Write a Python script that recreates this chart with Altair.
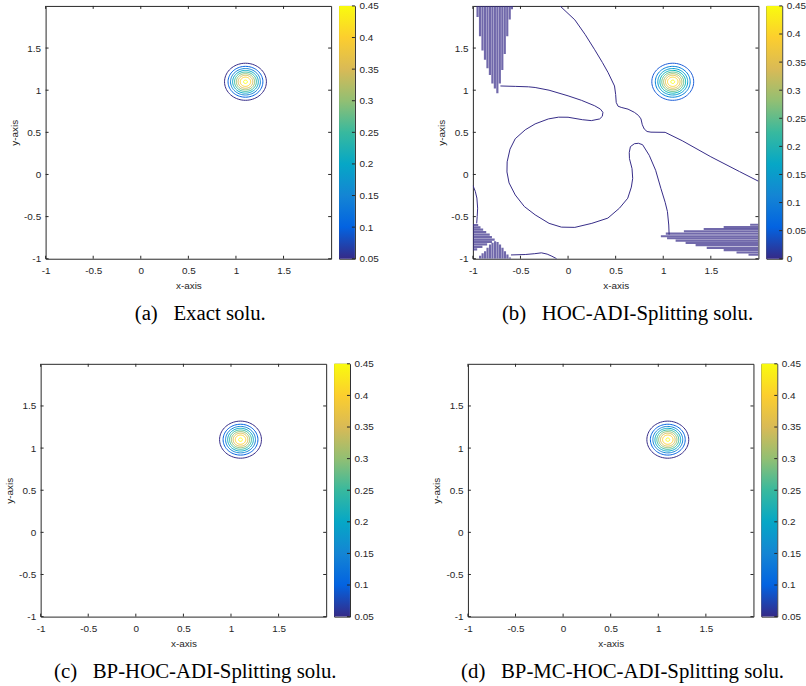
import math
import altair as alt
import pandas as pd

# ------------------------------------------------------------------ data
AXIS_TICKS = [-1, -0.5, 0, 0.5, 1, 1.5]
AXIS_DOMAIN = [-1, 2]

PEAK_X = 1.1
PEAK_Y = 1.1
LEVELS = [0.05, 0.10, 0.15, 0.20, 0.25, 0.30, 0.35, 0.40, 0.45]
RING_RADII = [0.220, 0.183, 0.157, 0.135, 0.115, 0.096, 0.077, 0.055, 0.020]

CBAR_TICKS = [0.05, 0.1, 0.15, 0.2, 0.25, 0.3, 0.35, 0.4, 0.45]
CBAR_TICKS_B = [0, 0.05, 0.1, 0.15, 0.2, 0.25, 0.3, 0.35, 0.4, 0.45]

PARULA = ["#352a87", "#0363e1", "#1485d4", "#06a7c6", "#38b99e",
          "#92bf73", "#d9ba56", "#fcce2e", "#f9fb0e"]

CAPTIONS = [
    "(a)\u00a0\u00a0\u00a0Exact solu.",
    "(b)\u00a0\u00a0\u00a0HOC-ADI-Splitting solu.",
    "(c)\u00a0\u00a0\u00a0BP-HOC-ADI-Splitting solu.",
    "(d)\u00a0\u00a0\u00a0BP-MC-HOC-ADI-Splitting solu.",
]

# HOC-ADI-Splitting: spurious zero-level contours
B_C1_X = [-0.085, 0.071, 0.18, 0.28, 0.36, 0.421, 0.488, 0.50, 0.506, 0.525, 0.558, 0.63, 0.697,
          0.74, 0.766, 0.78, 0.80, 0.83, 0.871, 1.02, 1.2, 1.5, 1.8, 2.0]
B_C1_Y = [2.0, 1.835, 1.66, 1.48, 1.33, 1.208, 1.05, 0.95, 0.855, 0.81, 0.796, 0.775, 0.737,
          0.70, 0.659, 0.59, 0.54, 0.51, 0.502, 0.50, 0.40, 0.21, 0.035, -0.08]

B_C2_X = [-0.711, -0.55, -0.416, -0.346, -0.2, 0.0, 0.14, 0.28, 0.34, 0.366, 0.36, 0.332, 0.245,
          0.15, 0.0, -0.1, -0.207, -0.346, -0.45, -0.555, -0.61, -0.64, -0.642, -0.62, -0.555,
          -0.46, -0.346, -0.2, -0.07, 0.071, 0.25, 0.418, 0.54, 0.627, 0.665, 0.679, 0.672, 0.645,
          0.643, 0.655, 0.697, 0.74, 0.783, 0.853, 0.92, 0.975, 1.02, 1.044, 1.058, 1.062]
B_C2_Y = [1.05, 1.045, 1.04, 1.032, 1.0, 0.933, 0.88, 0.815, 0.775, 0.737, 0.69, 0.659, 0.639,
          0.65, 0.679, 0.68, 0.659, 0.60, 0.53, 0.424, 0.30, 0.15, 0.03, -0.10, -0.243,
          -0.38, -0.479, -0.58, -0.625, -0.628, -0.58, -0.518, -0.40, -0.282, -0.15, -0.047, 0.07,
          0.188, 0.26, 0.33, 0.365, 0.37, 0.353, 0.227, 0.05, -0.165, -0.33, -0.44, -0.60, -0.714]

B_C3_X = [-1.0, -0.975, -0.958, -0.95, -0.955, -0.96]
B_C3_Y = [-0.13, -0.20, -0.28, -0.40, -0.50, -0.58]

B_C4_X = [-0.60, -0.45, -0.35, -0.28, -0.22, -0.17, -0.12]
B_C4_Y = [-0.955, -0.95, -0.94, -0.93, -0.945, -0.97, -1.0]

# hatched (oscillating) regions: top-left vertical stripes from the top edge down to Y_END
B_TL_X = [-0.951, -0.925, -0.899, -0.873, -0.847, -0.821, -0.795, -0.769, -0.743, -0.717,
          -0.691, -0.665, -0.639, -0.613, -0.590]
B_TL_YEND = [1.87, 1.64, 1.47, 1.36, 1.26, 1.18, 1.08, 1.02, 0.965, 1.08, 1.24, 1.43, 1.64, 1.84, 1.96]

# bottom-right horizontal stripes from X_START to the right edge
B_BR_Y = [-0.597, -0.624, -0.647, -0.674, -0.702, -0.733, -0.757, -0.785, -0.812, -0.839,
          -0.871, -0.898, -0.926, -0.953]
B_BR_XSTART = [1.913, 1.635, 1.425, 1.217, 1.027, 0.975, 1.04, 1.13, 1.235, 1.34, 1.457,
               1.635, 1.77, 1.896]

# bottom-left: horizontal stripes from the left edge to X_END
B_BLH_Y = [-0.60, -0.627, -0.655, -0.684, -0.714, -0.743, -0.773, -0.80, -0.83, -0.86, -0.89]
B_BLH_XEND = [-0.944, -0.92, -0.892, -0.86, -0.823, -0.80, -0.771, -0.80, -0.85, -0.90, -0.955]

# bottom-left: vertical stripes from the bottom edge up to Y_TOP
B_BLV_X = [-0.924, -0.898, -0.872, -0.846, -0.82, -0.794, -0.767, -0.741, -0.715, -0.689,
           -0.663, -0.637, -0.611]
B_BLV_YTOP = [-0.965, -0.935, -0.91, -0.87, -0.832, -0.81, -0.792, -0.80, -0.83, -0.87,
              -0.91, -0.95, -0.985]

# ------------------------------------------------------------------ tables
ring_rows = []
for lvl, r in zip(LEVELS, RING_RADII):
    for k in range(73):
        t = 2 * math.pi * k / 72
        ring_rows.append({"level": lvl, "k": k,
                          "x": PEAK_X + r * math.cos(t), "y": PEAK_Y + r * math.sin(t)})
rings_df = pd.DataFrame(ring_rows)

curve_rows = []
for cid, (xs, ys) in enumerate([(B_C1_X, B_C1_Y), (B_C2_X, B_C2_Y), (B_C3_X, B_C3_Y), (B_C4_X, B_C4_Y)]):
    for k, (x, y) in enumerate(zip(xs, ys)):
        curve_rows.append({"cid": cid, "k": k, "x": x, "y": y, "level": 0})
curves_df = pd.DataFrame(curve_rows)

X_LO, X_HI = AXIS_DOMAIN
seg_rows = []
for x, ye in zip(B_TL_X, B_TL_YEND):
    seg_rows.append({"x": x, "x2": x, "y": X_HI, "y2": ye, "level": 0})
for y, xs in zip(B_BR_Y, B_BR_XSTART):
    seg_rows.append({"x": xs, "x2": X_HI, "y": y, "y2": y, "level": 0})
for y, xe in zip(B_BLH_Y, B_BLH_XEND):
    seg_rows.append({"x": X_LO, "x2": xe, "y": y, "y2": y, "level": 0})
for x, yt in zip(B_BLV_X, B_BLV_YTOP):
    seg_rows.append({"x": x, "x2": x, "y": X_LO, "y2": yt, "level": 0})
segs_df = pd.DataFrame(seg_rows)

ticks_df = pd.DataFrame({"v": AXIS_TICKS})

# ------------------------------------------------------------------ style
W, H = 288, 255
CB_W = 16
TICK = 3
INK = "#262626"
LAB = "datum.value + ''"

XY_SCALE = alt.Scale(domain=AXIS_DOMAIN, nice=False, zero=False)
X_AXIS = alt.Axis(values=AXIS_TICKS, title="x-axis", labelExpr=LAB, labelFlush=False,
                  labelPadding=7, titlePadding=5)
Y_AXIS = alt.Axis(values=AXIS_TICKS, title="y-axis", labelExpr=LAB, labelFlush=False,
                  labelPadding=5, titlePadding=4)


def color_enc(lo):
    n = len(PARULA)
    dom = [lo + (LEVELS[-1] - lo) * i / (n - 1) for i in range(n)]
    return alt.Color("level:Q", scale=alt.Scale(domain=dom, range=PARULA), legend=None)


def main_plot(lo, caption, extra=False):
    X = alt.X("x:Q", scale=XY_SCALE, axis=X_AXIS)
    Y = alt.Y("y:Q", scale=XY_SCALE, axis=Y_AXIS)
    C = color_enc(lo)
    layers = []
    if extra:
        layers.append(alt.Chart(segs_df).mark_rule(strokeWidth=2.2, opacity=0.7, clip=True).encode(
            x=X, y=Y, x2="x2:Q", y2="y2:Q", color=C))
        layers.append(alt.Chart(curves_df).mark_line(strokeWidth=1, clip=True).encode(
            x=X, y=Y, detail="cid:N", order="k:Q", color=C))
    layers.append(alt.Chart(rings_df).mark_line(strokeWidth=1, clip=True).encode(
        x=X, y=Y, detail="level:N", order="k:Q", color=C))
    TX = alt.X("v:Q", scale=XY_SCALE, axis=X_AXIS)
    TY = alt.Y("v:Q", scale=XY_SCALE, axis=Y_AXIS)
    layers += [
        alt.Chart(ticks_df).mark_rule(color=INK).encode(x=TX, y=alt.value(H), y2=alt.value(H - TICK)),
        alt.Chart(ticks_df).mark_rule(color=INK).encode(x=TX, y=alt.value(0), y2=alt.value(TICK)),
        alt.Chart(ticks_df).mark_rule(color=INK).encode(y=TY, x=alt.value(0), x2=alt.value(TICK)),
        alt.Chart(ticks_df).mark_rule(color=INK).encode(y=TY, x=alt.value(W), x2=alt.value(W - TICK)),
    ]
    return alt.layer(*layers).properties(
        width=W, height=H,
        title=alt.TitleParams(text=caption, orient="bottom", anchor="middle", frame="group",
                              font="Liberation Serif", fontSize=21, fontWeight="normal",
                              color="black", offset=13, dx=12))


def colorbar(lo, ticks):
    df = pd.DataFrame({"lo": [lo], "hi": [LEVELS[-1]]})
    n = len(PARULA)
    grad = alt.Gradient(gradient="linear",
                        stops=[alt.GradientStop(color=c, offset=i / (n - 1)) for i, c in enumerate(PARULA)],
                        x1=0, x2=0, y1=1, y2=0)
    ys = alt.Scale(domain=[lo, LEVELS[-1]], nice=False, zero=False)
    ax = alt.Axis(orient="right", values=ticks, title=None, labelExpr=LAB, labelPadding=4,
                  labelFlush=False, labelBaseline="middle")
    bar = alt.Chart(df).mark_rect(fill=grad).encode(
        y=alt.Y("lo:Q", scale=ys, axis=ax), y2="hi:Q", x=alt.value(0), x2=alt.value(CB_W))
    tk = alt.Chart(pd.DataFrame({"v": ticks})).mark_rule(color=INK).encode(
        y=alt.Y("v:Q", scale=ys, axis=ax), x=alt.value(CB_W), x2=alt.value(CB_W - TICK))
    return alt.layer(bar, tk).properties(width=CB_W, height=H)


def blank(w):
    return alt.Chart(pd.DataFrame({"v": [0]})).mark_point(opacity=0, size=1).encode(
        x=alt.value(0), y=alt.value(H / 2)).properties(
        width=w, height=H, view=alt.ViewBackground(strokeOpacity=0))


GAP = 119 - 2 * 8  # distance colour bar -> next plot

row1 = alt.hconcat(
    blank(6), main_plot(LEVELS[0], CAPTIONS[0]), colorbar(LEVELS[0], CBAR_TICKS),
    blank(GAP), main_plot(0, CAPTIONS[1], extra=True), colorbar(0, CBAR_TICKS_B),
    spacing=8, bounds="flush",
).resolve_scale(color="independent")

row2 = alt.hconcat(
    blank(1), main_plot(LEVELS[0], CAPTIONS[2]), colorbar(LEVELS[0], CBAR_TICKS),
    blank(GAP), main_plot(LEVELS[0], CAPTIONS[3]), colorbar(LEVELS[0], CBAR_TICKS),
    spacing=8, bounds="flush",
).resolve_scale(color="independent")

chart = alt.vconcat(row1, row2, spacing=33).resolve_scale(
    color="independent"
).properties(
    padding={"left": 4, "top": -3, "right": 0, "bottom": 0}
).configure_view(
    stroke=INK, strokeWidth=1
).configure_axis(
    grid=False, domain=False, ticks=False,
    labelFont="Liberation Sans", labelFontSize=10, labelColor=INK,
    titleFont="Liberation Sans", titleFontSize=10, titleFontWeight="normal", titleColor=INK,
)

chart.save("out.html", embed_options={"renderer": "svg", "actions": False})
